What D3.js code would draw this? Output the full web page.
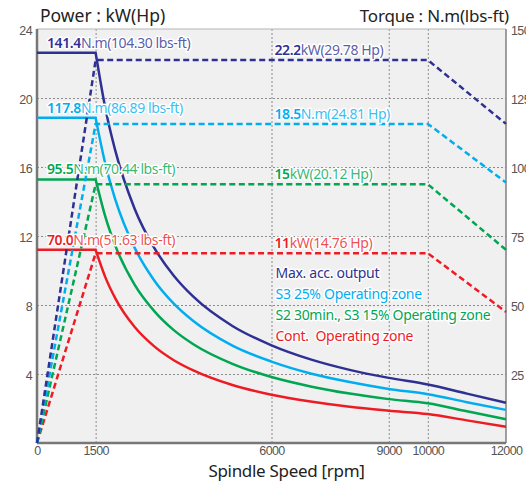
<!DOCTYPE html>
<html>
<head>
<meta charset="utf-8">
<title>Spindle power / torque</title>
<style>
  body { margin: 0; background: #fff; }
  svg { font-family: 'Noto Sans', sans-serif; }
  .grid line { stroke: #8c8c8c; stroke-width: 1; stroke-dasharray: 2,2; }
  .grid path { display: none; }
  .axis path, .axis line { display: none; }
  .axis text { fill: #555; font-size: 12.5px; letter-spacing: -0.6px; }
  .halo { paint-order: stroke; stroke: #fff; stroke-width: 3px; stroke-linejoin: round; white-space: pre; }
</style>
</head>
<body>
<svg width="526" height="486"></svg>
<script src="https://cdn.jsdelivr.net/npm/d3@7/dist/d3.min.js"></script>
<script>
// ---- data ----
var series = ["Max. acc. output", "S3 25% Operating zone", "S2 30min., S3 15% Operating zone", "Cont.  Operating zone"];
var colors = ["#2e3192", "#00aeef", "#00a651", "#ed1c24"];

// torque curves (N.m, right axis)
var torqueSpeeds = [0, 1500, 1750, 2000, 2500, 3000, 3500, 4000, 5000, 6000, 7000, 8000, 9000, 10000, 11000, 12000];
var torqueMax  = [141.4, 141.4, 121.2, 106.1, 84.8, 70.7, 60.6, 53.0, 42.4, 35.4, 30.3, 26.5, 23.6, 21.2, 17.9, 14.6];
var torqueS3   = [117.8, 117.8, 101.0, 88.4, 70.7, 58.9, 50.5, 44.2, 35.3, 29.5, 25.2, 22.1, 19.6, 17.7, 14.8, 12.0];
var torqueS2   = [95.5, 95.5, 81.9, 71.6, 57.3, 47.8, 40.9, 35.8, 28.7, 23.9, 20.5, 17.9, 15.9, 14.4, 11.5, 8.6];
var torqueCont = [70.0, 70.0, 60.0, 52.5, 42.0, 35.0, 30.0, 26.3, 21.0, 17.5, 15.0, 13.1, 11.7, 10.5, 8.2, 5.9];

// power curves (kW, left axis)
var powerSpeeds = [0, 1500, 10000, 12000];
var powerMax  = [0, 22.2, 22.2, 18.5];
var powerS3   = [0, 18.5, 18.5, 15.1];
var powerS2   = [0, 15.0, 15.0, 11.2];
var powerCont = [0, 11.0, 11.0, 7.6];

var torqueNum  = ["141.4", "117.8", "95.5", "70.0"];
var torqueRest = ["N.m(104.30 lbs-ft)", "N.m(86.89 lbs-ft)", "N.m(70.44 lbs-ft)", "N.m(51.63 lbs-ft)"];
var powerNum   = ["22.2", "18.5", "15", "11"];
var powerRest  = ["kW(29.78 Hp)", "N.m(24.81 Hp)", "kW(20.12 Hp)", "kW(14.76 Hp)"];

var speedTicks = [0, 1500, 6000, 9000, 10000, 12000];
var speedGrid = [1500, 6000, 9000, 10000];
var powerTicks = [4, 8, 12, 16, 20, 24];
var torqueTicks = [25, 50, 75, 100, 125, 150];

var torques = [torqueMax, torqueS3, torqueS2, torqueCont];
var powers = [powerMax, powerS3, powerS2, powerCont];

// ---- layout ----
var svg = d3.select("svg"),
    margin = {top: 29, right: 20, bottom: 43, left: 37},
    width = +svg.attr("width") - margin.left - margin.right,
    height = +svg.attr("height") - margin.top - margin.bottom;

var x = d3.scaleLinear().domain([0, 12000]).range([0, width]),
    yP = d3.scaleLinear().domain([0, 24]).range([height, 0]),
    yT = d3.scaleLinear().domain([0, 150]).range([height, 0]);

var g = svg.append("g")
    .attr("transform", "translate(" + margin.left + "," + margin.top + ")");

g.append("rect")
    .attr("width", width).attr("height", height)
    .attr("fill", "#f0f0f0");

// grid
g.append("g").attr("class", "grid")
    .call(d3.axisLeft(yP).tickValues([4, 8, 12, 16, 20]).tickSize(-width).tickFormat(""));
g.append("g").attr("class", "grid")
    .attr("transform", "translate(0," + height + ")")
    .call(d3.axisBottom(x).tickValues(speedGrid).tickSize(-height).tickFormat(""));

// frame
g.append("line").attr("x1", 0).attr("x2", width).attr("y1", 0).attr("y2", 0)
    .attr("stroke", "#b5b5b5").attr("stroke-width", 1);
g.append("line").attr("x1", width).attr("x2", width).attr("y1", 0).attr("y2", height)
    .attr("stroke", "#808080").attr("stroke-width", 1.5);
g.append("line").attr("x1", 0).attr("x2", 0).attr("y1", 0).attr("y2", height)
    .attr("stroke", "#777").attr("stroke-width", 2.5);
g.append("line").attr("x1", 0).attr("x2", width).attr("y1", height).attr("y2", height)
    .attr("stroke", "#777").attr("stroke-width", 2.5);

// axes labels
g.append("g").attr("class", "axis")
    .call(d3.axisLeft(yP).tickValues(powerTicks).tickSize(0).tickPadding(5))
    .selectAll("text").attr("dy", "0.45em");
g.append("g").attr("class", "axis")
    .attr("transform", "translate(" + width + ",0)")
    .call(d3.axisRight(yT).tickValues(torqueTicks).tickSize(0).tickPadding(5))
    .selectAll("text").attr("dy", "0.45em");
g.append("g").attr("class", "axis")
    .attr("transform", "translate(0," + height + ")")
    .call(d3.axisBottom(x).tickValues(speedTicks).tickSize(0).tickPadding(3).tickFormat(d3.format("d")));

// curves
var decay = d3.line()
    .x(function(d) { return x(d[0]); })
    .y(function(d) { return yT(d[1]); })
    .curve(d3.curveMonotoneX);
var powerLine = d3.line()
    .x(function(d) { return x(d[0]); })
    .y(function(d) { return yP(d[1]); });

for (var i = 3; i >= 0; i--) {
  var pts = torqueSpeeds.map(function(s, j) { return [s, torques[i][j]]; });
  // flat part then the falling part
  var path = "M" + x(pts[0][0]) + "," + yT(pts[0][1]) + "L" + decay(pts.slice(1)).slice(1);
  g.append("path")
      .attr("d", path)
      .attr("fill", "none")
      .attr("stroke", colors[i])
      .attr("stroke-width", 2.5);
}

for (var i = 3; i >= 0; i--) {
  var pp = powerSpeeds.map(function(s, j) { return [s, powers[i][j]]; });
  g.append("path")
      .attr("d", powerLine(pp))
      .attr("fill", "none")
      .attr("stroke", colors[i])
      .attr("stroke-width", 2.5)
      .attr("stroke-dasharray", "6,3.5");
}

// value labels
for (var i = 0; i < 4; i++) {
  var t = g.append("text").attr("class", "halo")
      .attr("x", 10)
      .attr("y", yT(torques[i][0]) - 5)
      .attr("fill", colors[i])
      .style("font-size", "14px")
      .style("letter-spacing", "-0.4px");
  t.append("tspan").style("font-weight", 600).text(torqueNum[i]);
  t.append("tspan").attr("fill-opacity", 0.8).text(torqueRest[i]);

  var p = g.append("text").attr("class", "halo")
      .attr("x", x(6000) + 3)
      .attr("y", yP(powers[i][1]) - 5)
      .attr("fill", colors[i])
      .style("font-size", "14px")
      .style("letter-spacing", "-0.4px");
  p.append("tspan").style("font-weight", 600).text(powerNum[i]);
  p.append("tspan").attr("fill-opacity", 0.8).text(powerRest[i]);
}

// legend
series.forEach(function(s, i) {
  g.append("text").attr("class", "halo")
      .attr("x", x(6000) + 4)
      .attr("y", 249 + i * 21)
      .attr("fill", colors[i])
      .style("font-size", "14px")
      .style("letter-spacing", "-0.3px")
      .text(s);
});

// titles
svg.append("text")
    .attr("x", 40).attr("y", 22)
    .attr("fill", "#222")
    .style("font-size", "17.5px")
    .text("Power : kW(Hp)");
svg.append("text")
    .attr("x", 509).attr("y", 22)
    .attr("text-anchor", "end")
    .attr("fill", "#222")
    .style("font-size", "17px")
    .style("letter-spacing", "-0.2px")
    .text("Torque : N.m(lbs-ft)");
svg.append("text")
    .attr("x", margin.left + x(6000) + 15).attr("y", 477)
    .attr("text-anchor", "middle")
    .attr("fill", "#222")
    .style("font-size", "17px")
    .style("letter-spacing", "-0.3px")
    .text("Spindle Speed [rpm]");
</script>
</body>
</html>
